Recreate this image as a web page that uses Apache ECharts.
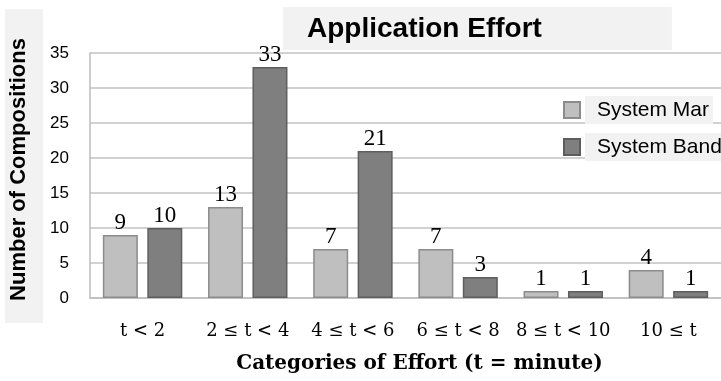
<!DOCTYPE html>
<html>
<head>
<meta charset="utf-8">
<script src="https://cdn.jsdelivr.net/npm/echarts@6/dist/echarts.min.js"></script>
<style>
  html, body { margin: 0; padding: 0; background: #ffffff; }
  #chart { width: 721px; height: 381px; }
</style>
</head>
<body>
<div id="chart"></div>
<script>
// Effort categories (t in minutes)
var categories = ['t < 2', '2 \u2264 t < 4', '4 \u2264 t < 6', '6 \u2264 t < 8', '8 \u2264 t < 10', '10 \u2264 t'];
// Number of compositions per category
var systemMar = [9, 13, 7, 7, 1, 4];
var systemBand = [10, 33, 21, 3, 1, 1];
// Value axis ticks
var yMin = 0, yMax = 35, yStep = 5;

var chart = echarts.init(document.getElementById('chart'), null, { renderer: 'canvas' });

var valueLabel = {
  show: true,
  position: 'top',
  distance: 1,
  color: '#000',
  fontFamily: '"Liberation Serif", serif',
  fontSize: 23
};

chart.setOption({
  animation: false,
  backgroundColor: '#ffffff',
  title: {
    text: 'Application Effort',
    left: 283,
    top: 7,
    padding: [8, 130, 7, 24],
    backgroundColor: '#f2f2f2',
    textStyle: {
      fontFamily: '"Liberation Sans", Arial, sans-serif',
      fontWeight: 'bold',
      fontSize: 28,
      lineHeight: 28,
      color: '#000'
    }
  },
  graphic: [{
    type: 'rect',
    z: -1,
    shape: { x: 5, y: 9, width: 38, height: 314 },
    style: { fill: '#f2f2f2' }
  }],
  legend: {
    orient: 'vertical',
    left: 558,
    top: 91,
    itemWidth: 16,
    itemHeight: 16,
    itemGap: 9,
    icon: 'rect',
    textStyle: {
      fontFamily: '"Liberation Sans", Arial, sans-serif',
      fontSize: 21,
      color: '#000',
      backgroundColor: '#f2f2f2',
      padding: [3, 4, 4, 12]
    },
    data: ['System Mar', 'System Band']
  },
  grid: {
    left: 89,
    right: 0,
    top: 53,
    bottom: 83
  },
  xAxis: {
    type: 'category',
    data: categories,
    axisLine: { show: true, lineStyle: { color: '#bdbdbd', width: 1.5 } },
    axisTick: { show: false },
    axisLabel: {
      margin: 24,
      interval: 0,
      color: '#000',
      fontFamily: '"DejaVu Serif", serif',
      fontSize: 18
    },
    name: 'Categories of Effort (t = minute)',
    nameLocation: 'middle',
    nameGap: 56,
    nameTextStyle: {
      fontFamily: '"DejaVu Serif", serif',
      fontWeight: 'bold',
      fontSize: 20,
      color: '#000',
      padding: [0, 0, 0, 28]
    }
  },
  yAxis: {
    type: 'value',
    min: yMin,
    max: yMax,
    interval: yStep,
    axisLine: { show: true, lineStyle: { color: '#bdbdbd', width: 1.5 } },
    axisTick: { show: false },
    splitLine: { show: true, lineStyle: { color: '#c2c2c2', width: 1.5 } },
    axisLabel: {
      margin: 21,
      color: '#000',
      fontFamily: '"Liberation Sans", Arial, sans-serif',
      fontSize: 17
    },
    name: 'Number of Compositions',
    nameLocation: 'middle',
    nameRotate: 90,
    nameGap: 60,
    nameTextStyle: {
      fontFamily: '"Liberation Sans", Arial, sans-serif',
      fontWeight: 'bold',
      fontSize: 22,
      color: '#000',
      padding: [0, 0, 0, 12]
    }
  },
  series: [{
    name: 'System Mar',
    type: 'bar',
    data: systemMar,
    barWidth: 35,
    barGap: '27%',
    itemStyle: { color: '#bfbfbf', borderColor: '#8c8c8c', borderWidth: 1.5 },
    label: valueLabel
  }, {
    name: 'System Band',
    type: 'bar',
    data: systemBand,
    barWidth: 35,
    itemStyle: { color: '#7f7f7f', borderColor: '#5e5e5e', borderWidth: 1.5 },
    label: valueLabel
  }]
});
</script>
</body>
</html>
